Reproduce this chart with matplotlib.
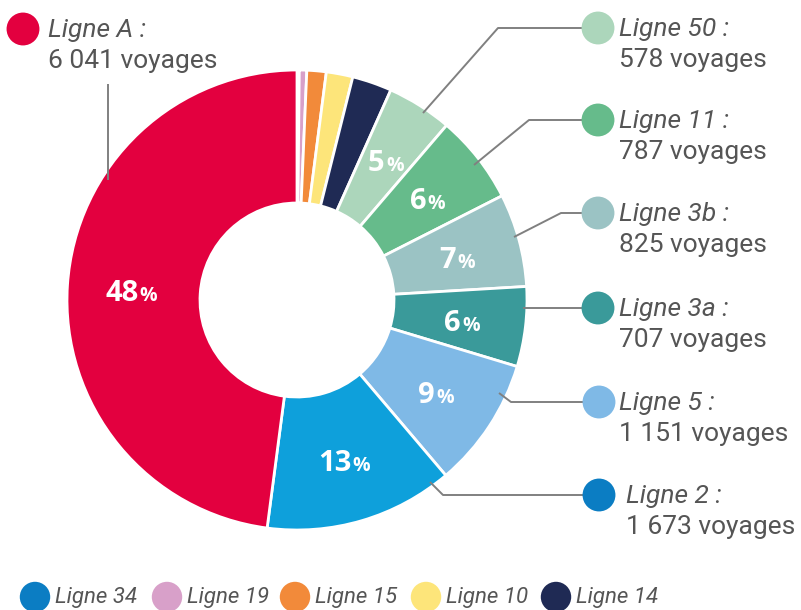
import matplotlib
matplotlib.use("Agg")
import matplotlib.pyplot as plt
from matplotlib.offsetbox import TextArea, HPacker, AnnotationBbox
import numpy as np

# ---- data (clockwise from top) ----
lines = ["Ligne 34", "Ligne 19", "Ligne 15", "Ligne 10", "Ligne 14",
         "Ligne 50", "Ligne 11", "Ligne 3b", "Ligne 3a", "Ligne 5", "Ligne 2", "Ligne A"]
voyages = [20, 66, 171, 235, 351, 578, 787, 825, 707, 1151, 1673, 6041]
slice_colors = ["#0b7dc3", "#d8a0c9", "#f28a3a", "#fde57a", "#1f2a54",
                "#acd6bb", "#66bb8b", "#9bc3c4", "#3a9a9a", "#7fb9e6", "#0ea0db", "#e3003f"]
pct_labels = ["", "", "", "", "", "5", "6", "7", "6", "9", "13", "48"]

# callouts: name, value text, marker colour
callout_names = ["Ligne A", "Ligne 50", "Ligne 11", "Ligne 3b", "Ligne 3a", "Ligne 5", "Ligne 2"]
callout_values = ["6 041 voyages", "578 voyages", "787 voyages", "825 voyages",
                  "707 voyages", "1 151 voyages", "1 673 voyages"]
callout_colors = ["#e3003f", "#acd6bb", "#66bb8b", "#9bc3c4", "#3a9a9a", "#7fb9e6", "#0b7dc3"]

legend_names = ["Ligne 34", "Ligne 19", "Ligne 15", "Ligne 10", "Ligne 14"]
legend_colors = ["#0b7dc3", "#d8a0c9", "#f28a3a", "#fde57a", "#1f2a54"]

W, H = 801, 610
fig = plt.figure(figsize=(W / 100, H / 100), dpi=100)
ax = fig.add_axes([0, 0, 1, 1])
ax.axis("off")

def Y(y):  # pixel y (top-down) -> data y
    return H - y

CX, CY, R, RW = 297, Y(300), 230, 133
ax.pie(voyages, colors=slice_colors, startangle=90, counterclock=False,
       center=(CX, CY), radius=R,
       wedgeprops=dict(width=RW, edgecolor="white", linewidth=2))
ax.set_xlim(0, W)
ax.set_ylim(0, H)
ax.set_aspect("auto")

# percentage labels at mid-angles
total = sum(voyages)
cum = 0
for v, p in zip(voyages, pct_labels):
    mid = (cum + v / 2) / total * 2 * np.pi
    cum += v
    if not p:
        continue
    r = 166
    x = CX + r * np.sin(mid)
    y = CY + r * np.cos(mid) - 4
    t1 = TextArea(p, textprops=dict(color="white", fontsize=21, fontweight="bold",
                                    family="Open Sans"))
    t2 = TextArea("%", textprops=dict(color="white", fontsize=14, fontweight="bold",
                                      family="Open Sans"))
    box = HPacker(children=[t1, t2], align="baseline", pad=0, sep=1)
    ab = AnnotationBbox(box, (x, y), frameon=False, box_alignment=(0.5, 0.5))
    ax.add_artist(ab)

TXT = "#555555"
LINE = "#808080"
FS = 19

# callout layout (pixels): marker centre, text x, leader polyline
callout_layout = [
    ((23, 29), 48, [(108, 84), (108, 180)]),
    ((598, 28), 619, [(586, 28), (498, 28), (423, 113)]),
    ((598, 120), 619, [(586, 120), (529, 120), (474, 165)]),
    ((598, 213), 619, [(586, 213), (561, 213), (514, 237)]),
    ((598, 308), 619, [(586, 308), (523, 308)]),
    ((599, 402), 619, [(587, 402), (511, 402), (499, 393)]),
    ((599, 495), 626, [(587, 495), (443, 495), (430, 482)]),
]
for name, val, col, ((mx, my), tx, poly) in zip(callout_names, callout_values,
                                                callout_colors, callout_layout):
    px = [p[0] for p in poly]
    py = [Y(p[1]) for p in poly]
    ax.plot(px, py, color=LINE, lw=1.4, solid_capstyle="butt", zorder=3)
    ax.scatter([mx], [Y(my)], s=560, color=col, edgecolors="none", zorder=4)
    ax.text(tx, Y(my + 8), name + " :", fontsize=FS, style="italic", color=TXT,
            family="Roboto", va="baseline", ha="left")
    ax.text(tx, Y(my + 39), val, fontsize=FS, color=TXT,
            family="Roboto", va="baseline", ha="left")

# bottom legend
leg_x = [35, 167, 295, 426, 556]
for name, col, lx in zip(legend_names, legend_colors, leg_x):
    ax.scatter([lx], [Y(597)], s=480, color=col, edgecolors="none", zorder=4)
    ax.text(lx + 20, Y(597), name, fontsize=16, style="italic", color=TXT,
            family="Roboto", va="center", ha="left")

fig.savefig("out.png", dpi=100)
